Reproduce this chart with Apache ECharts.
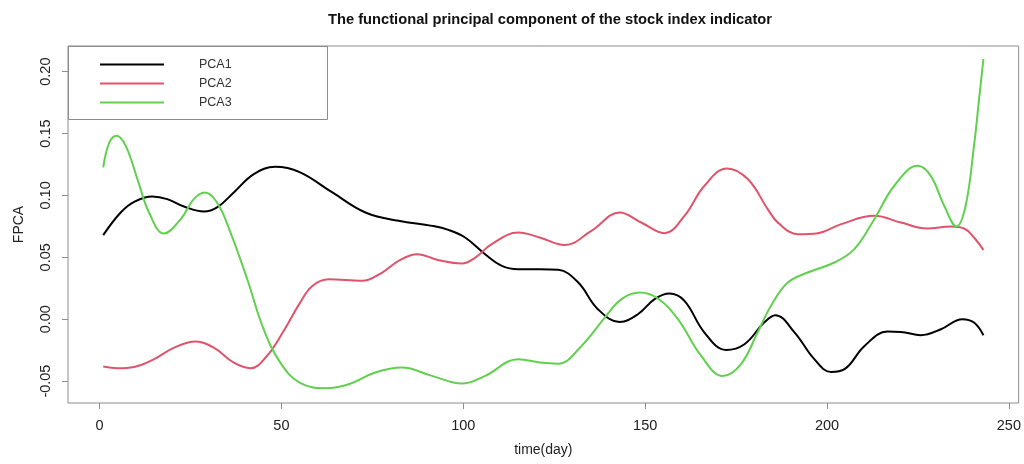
<!DOCTYPE html>
<html>
<head>
<meta charset="utf-8">
<script src="https://cdn.jsdelivr.net/npm/echarts@6/dist/echarts.min.js"></script>
<style>
  html, body { margin: 0; padding: 0; background: #fff; }
  #chart { width: 1024px; height: 464px; }
</style>
</head>
<body>
<div id="chart"></div>
<script>
// values
const days1 = [1, 5.8, 9.5, 14.5, 18.6, 23.2, 28.7, 32.3, 36.9, 42.4, 48.3, 55, 64, 73.1, 82.2, 91.4, 95.9, 100.5, 106, 110.6, 115.1, 121, 126.1, 131.6, 137, 143, 148, 152.6, 156.7, 160.8, 166.3, 172.2, 177.3, 182.7, 185.8, 191.1, 196.5, 201.1, 204.8, 210.3, 216.6, 220.3, 225.8, 231.3, 237.2, 240.4, 243];
const pca1 = [0.0679, 0.0862, 0.0948, 0.0991, 0.0970, 0.0910, 0.0870, 0.0903, 0.1024, 0.1172, 0.1231, 0.1188, 0.1024, 0.0862, 0.0795, 0.0754, 0.0722, 0.0660, 0.0525, 0.0431, 0.0404, 0.0404, 0.0399, 0.0296, 0.0081, -0.0022, 0.0040, 0.0162, 0.0207, 0.0148, -0.0108, -0.0248, -0.0202, -0.0027, 0.0032, -0.0108, -0.0323, -0.0426, -0.0404, -0.0216, -0.0100, -0.0103, -0.0129, -0.0081, 0.0000, -0.0027, -0.0129];

const days2 = [1, 4.9, 9.5, 15, 20.5, 26.4, 31.4, 36.9, 41.5, 46, 50.6, 55, 58.5, 63, 72.2, 77.7, 82.2, 87.3, 93.2, 99.6, 103.3, 107.8, 115.1, 121, 127.9, 135.2, 143, 148.9, 155.3, 160.8, 166.3, 172.5, 178.2, 183.7, 186.5, 192, 197.5, 203.9, 213, 220.3, 227.6, 234, 237.7, 240.4, 243];
const pca2 = [-0.0383, -0.0396, -0.0386, -0.0323, -0.0230, -0.0181, -0.0230, -0.0351, -0.0396, -0.0297, -0.0095, 0.0128, 0.0269, 0.0323, 0.0310, 0.0377, 0.0471, 0.0525, 0.0477, 0.0450, 0.0498, 0.0606, 0.0700, 0.0660, 0.0600, 0.0714, 0.0862, 0.0781, 0.0695, 0.0835, 0.1078, 0.1218, 0.1132, 0.0889, 0.0780, 0.0687, 0.0695, 0.0768, 0.0835, 0.0781, 0.0733, 0.0749, 0.0733, 0.0660, 0.0560];

const days3 = [1, 2.7, 4.7, 7.2, 10.4, 13.6, 17.7, 22.3, 25.9, 28.9, 32.3, 36, 40.6, 45.1, 49.7, 55, 62.1, 68.5, 75.8, 83.1, 91.4, 99.6, 106, 115.1, 121, 126.1, 132.5, 138.9, 143.5, 148.5, 153.5, 159, 165.4, 171.3, 176.3, 180.9, 184.6, 189.2, 194.7, 202, 207.5, 213, 218.5, 224.9, 228.5, 232.2, 235.6, 238.1, 240.4, 241.8, 243];
const pca3 = [0.1226, 0.1428, 0.1482, 0.1400, 0.1132, 0.0862, 0.0692, 0.0808, 0.0970, 0.1024, 0.0943, 0.0700, 0.0323, -0.0081, -0.0351, -0.0513, -0.0558, -0.0526, -0.0431, -0.0391, -0.0458, -0.0520, -0.0458, -0.0323, -0.0350, -0.0359, -0.0216, 0.0013, 0.0162, 0.0215, 0.0167, 0.0000, -0.0297, -0.0458, -0.0364, -0.0108, 0.0108, 0.0296, 0.0377, 0.0458, 0.0566, 0.0808, 0.1078, 0.1239, 0.1158, 0.0916, 0.0749, 0.0916, 0.1400, 0.1778, 0.2102];

const seriesNames = ['PCA1', 'PCA2', 'PCA3'];
const seriesColors = ['#000000', '#DF536B', '#61D04F'];
const xTicks = [0, 50, 100, 150, 200, 250];
const yTicks = [-0.05, 0, 0.05, 0.1, 0.15, 0.2];

const zip = (xs, ys) => xs.map((x, i) => [x, ys[i]]);
const font = 'Liberation Sans, Arial, sans-serif';

const chart = echarts.init(document.getElementById('chart'), null, { renderer: 'canvas' });

chart.setOption({
  animation: false,
  textStyle: { fontFamily: font },
  title: {
    text: 'The functional principal component of the stock index indicator',
    left: 545,
    top: 7,
    textAlign: 'center',
    textStyle: { fontSize: 14.7, fontWeight: 'bold', color: '#111', fontFamily: font }
  },
  grid: {
    left: 68, right: 2, top: 46, bottom: 61,
    show: true, borderColor: '#8c8c8c', borderWidth: 1
  },
  legend: {
    orient: 'vertical',
    left: 95,
    top: 50,
    itemGap: 0,
    itemWidth: 64,
    itemHeight: 2,
    icon: 'rect',
    data: seriesNames,
    textStyle: { fontSize: 12.5, color: '#333', lineHeight: 19, padding: [0, 0, 0, 30], fontFamily: font }
  },
  graphic: [{
    type: 'rect',
    shape: { x: 68.5, y: 46.5, width: 259, height: 73 },
    style: { fill: null, stroke: '#8c8c8c', lineWidth: 1 },
    silent: true
  }],
  xAxis: {
    type: 'value',
    min: -8.68,
    max: 252.68,
    name: 'time(day)',
    nameLocation: 'middle',
    nameGap: 40,
    nameTextStyle: { fontSize: 14, color: '#222', fontFamily: font },
    axisLine: { show: false, onZero: false },
    splitLine: { show: false },
    axisTick: { show: true, length: 6, customValues: xTicks, lineStyle: { color: '#8c8c8c' } },
    axisLabel: { customValues: xTicks, fontSize: 14.5, color: '#222', margin: 15, fontFamily: font }
  },
  yAxis: {
    type: 'value',
    min: -0.0677,
    max: 0.2207,
    name: 'FPCA',
    nameLocation: 'middle',
    nameGap: 42,
    nameTextStyle: { fontSize: 14, color: '#222', fontFamily: font },
    axisLine: { show: false, onZero: false },
    splitLine: { show: false },
    axisTick: { show: true, length: 6, customValues: yTicks, lineStyle: { color: '#8c8c8c' } },
    axisLabel: {
      customValues: yTicks,
      rotate: 90,
      fontSize: 14.5,
      color: '#222',
      margin: 15,
      fontFamily: font,
      formatter: v => v.toFixed(2)
    }
  },
  series: [
    { name: seriesNames[0], type: 'line', data: zip(days1, pca1) },
    { name: seriesNames[1], type: 'line', data: zip(days2, pca2) },
    { name: seriesNames[2], type: 'line', data: zip(days3, pca3) }
  ].map((s, i) => Object.assign(s, {
    showSymbol: false,
    smooth: 0.4,
    color: seriesColors[i],
    lineStyle: { width: 2, color: seriesColors[i] }
  }))
});
</script>
</body>
</html>
